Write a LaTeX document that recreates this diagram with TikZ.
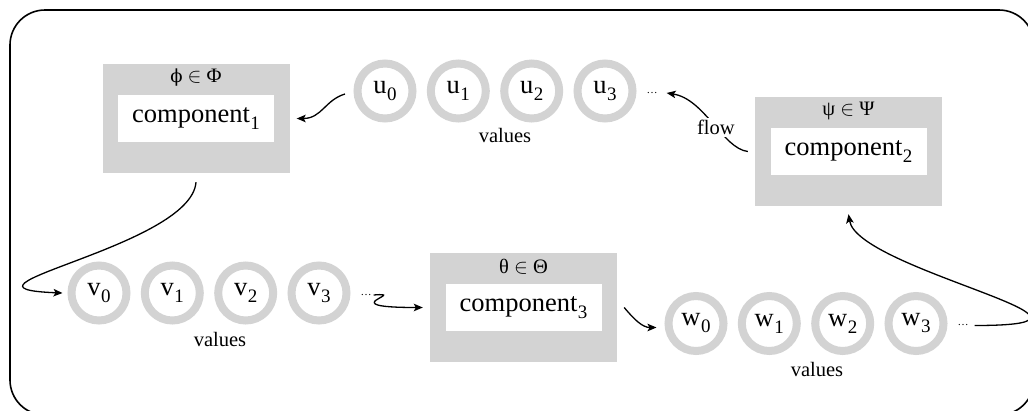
\documentclass[tikz,border=0pt]{standalone}
\usepackage{fontspec}
\setmainfont{Liberation Serif}
\newfontfamily\greekserif{DejaVu Serif}[Scale=0.88]
\usetikzlibrary{arrows.meta}
\definecolor{boxgray}{RGB}{211,211,211}
\newcommand\sbs[1]{\kern0.5pt\raisebox{-7pt}{\fontsize{19}{19}\selectfont #1}}
\begin{document}
\begin{tikzpicture}[x=1pt,y=-1pt,
  comp/.style={fill=boxgray, minimum width=187pt, minimum height=109pt, inner sep=0pt},
  compin/.style={fill=white, minimum width=156pt, minimum height=47pt, inner sep=0pt, font=\fontsize{26.5}{30}\selectfont},
  param/.style={font=\fontsize{20.5}{24}\selectfont, inner sep=0pt},
  ring/.style={circle, draw=boxgray, line width=8pt, minimum size=55pt, inner sep=0pt, font=\fontsize{26.5}{30}\selectfont},
  dotsnode/.style={font=\fontsize{11}{13}\selectfont, inner sep=0pt, anchor=base},
  lbl/.style={font=\fontsize{20.5}{24}\selectfont, inner sep=0pt},
  arr/.style={line width=1.3pt, -{Stealth[length=9pt,width=7.5pt,inset=2pt]}},
]
\useasboundingbox (0,0) rectangle (1028,410);
\clip (0,0) rectangle (1028,410);
\draw[line width=1.6pt, rounded corners=35pt] (10,10) rectangle (1034,415);

% components
\node[comp] (c1) at (196,118.5) {};
\node[compin] (c1t) at (c1.center) {component\sbs{1}};
\node[param] (c1p) at ([yshift=-14pt]c1.north) {{\greekserif ϕ} $\in$ Φ};

\node[comp] (c2) at (848.5,151.5) {};
\node[compin] (c2t) at (c2.center) {component\sbs{2}};
\node[param] (c2p) at ([yshift=-14pt]c2.north) {ψ $\in$ Ψ};

\node[comp] (c3) at (523.5,307.5) {};
\node[compin] (c3t) at (c3.center) {component\sbs{3}};
\node[param] (c3p) at ([yshift=-14pt]c3.north) {θ $\in$ Θ};

% u row
\node[ring] (u0) at (385,91) {u\sbs{0}};
\node[ring] (u1) at (458.3,91) {u\sbs{1}};
\node[ring] (u2) at (531.7,91) {u\sbs{2}};
\node[ring] (u3) at (605,91) {u\sbs{3}};
\node[dotsnode] (ud) at ([xshift=47pt]u3.base) {…};
\node[lbl] (uv) at (505,135) {values};

% v row
\node[ring] (v0) at (99,293) {v\sbs{0}};
\node[ring] (v1) at (172.3,293) {v\sbs{1}};
\node[ring] (v2) at (245.7,293) {v\sbs{2}};
\node[ring] (v3) at (319,293) {v\sbs{3}};
\node[dotsnode] (vd) at ([xshift=47pt]v3.base) {…};
\node[lbl] (vv) at (220,339) {values};

% w row
\node[ring] (w0) at (696,323.5) {w\sbs{0}};
\node[ring] (w1) at (769.3,323.5) {w\sbs{1}};
\node[ring] (w2) at (842.7,323.5) {w\sbs{2}};
\node[ring] (w3) at (916,323.5) {w\sbs{3}};
\node[dotsnode] (wd) at ([xshift=47pt]w3.base) {…};
\node[lbl] (wv) at (817,369) {values};

% connectors
\draw[arr] ([shift={(-8.5pt,-3pt)}]u0.west) .. controls +(-20,6) and +(25,0) .. ([xshift=7pt]c1.east);
\draw[arr] ([yshift=-9pt]c1.south) .. controls +(-5,65) and +(-130,-5) .. ([xshift=-5pt]v0.west);
\draw[arr] ([xshift=2pt]vd.east) .. controls +(36,-3) and +(-93,0) .. ([xshift=-7pt]c3.west);
\draw[arr] ([xshift=7pt]c3.east) .. controls +(10,12) and +(-14,0) .. ([shift={(-8pt,-4pt)}]w0.west);
\draw[arr] ([xshift=6pt]wd.east) .. controls +(175,0) and +(9,56) .. ([yshift=-8pt]c2.south);
\draw[arr] ([xshift=-7pt]c2.west) .. controls +(-25,-3) and +(38,6) .. node[lbl, fill=white, inner sep=2pt, pos=0.45] (flow) {flow} ([xshift=9pt]ud.east);
\end{tikzpicture}
\end{document}
